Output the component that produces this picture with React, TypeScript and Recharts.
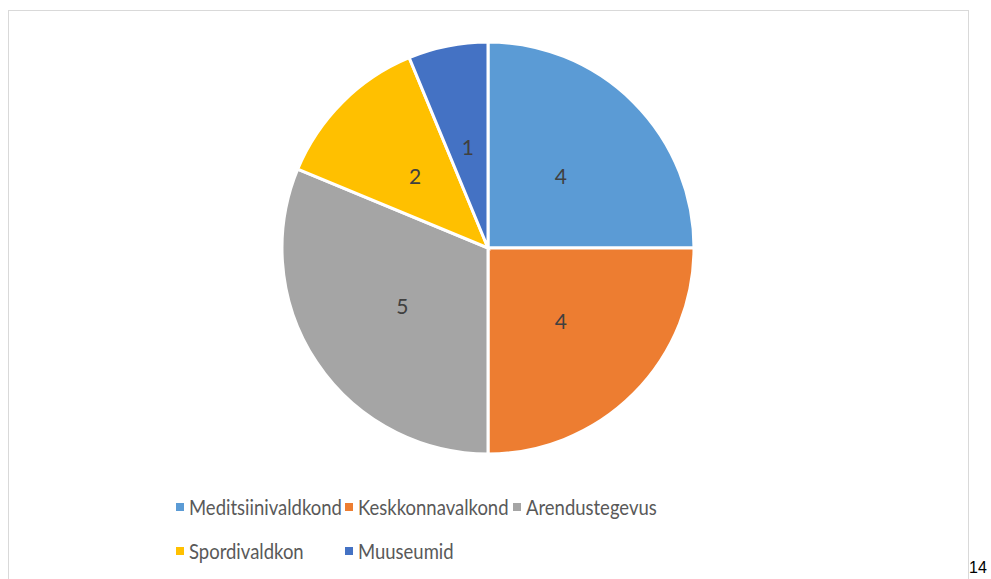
import React from 'react';
import { PieChart, Pie, Cell, Legend } from 'recharts';

const categories = ['Meditsiinivaldkond', 'Keskkonnavalkond', 'Arendustegevus', 'Spordivaldkon', 'Muuseumid'];
const values = [4, 4, 5, 2, 1];
const colors = ['#5B9BD5', '#ED7D31', '#A5A5A5', '#FFC000', '#4472C4'];

const chartData = categories.map((name, i) => ({ name, value: values[i] }));

const FONT = 'Lato, "Open Sans", sans-serif';
const RADIAN = Math.PI / 180;

const renderLabel = (props: any) => {
  const { cx, cy, midAngle, outerRadius, value } = props;
  const r = outerRadius * 0.5;
  const x = cx + r * Math.cos(-midAngle * RADIAN);
  const y = cy + r * Math.sin(-midAngle * RADIAN);
  return (
    <text x={x} y={y} fill="#404040" fontSize={21} fontFamily={FONT} textAnchor="middle" dominantBaseline="central">
      {value}
    </text>
  );
};

// legend laid out in two rows like the office chart
const legendSlots = [
  { left: 176, top: 0 },
  { left: 345, top: 0 },
  { left: 513, top: 0 },
  { left: 176, top: 44 },
  { left: 345, top: 44 },
];

const renderLegend = () => (
  <div style={{ position: 'relative', width: 991, height: 80 }}>
    {categories.map((name, i) => (
      <div
        key={name}
        style={{
          position: 'absolute',
          left: legendSlots[i].left,
          top: legendSlots[i].top,
          display: 'flex',
          alignItems: 'center',
          fontFamily: FONT,
          fontSize: 21,
          color: '#595959',
          lineHeight: '24px',
          whiteSpace: 'nowrap',
        }}
      >
        <span style={{ display: 'inline-block', width: 8, height: 8, background: colors[i], marginRight: 5 }} />
        {/* Calibri is narrower than Lato, squeeze a bit */}
        <span style={{ display: 'inline-block', transform: 'scaleX(0.88)', transformOrigin: 'left center' }}>{name}</span>
      </div>
    ))}
  </div>
);

const App: React.FC = () => {
  return (
    <div style={{ position: 'absolute', left: 0, top: 0, width: 991, height: 579, background: '#fff', overflow: 'hidden' }}>
      <div
        style={{
          position: 'absolute',
          left: 8,
          top: 10,
          width: 959,
          height: 600,
          border: '1px solid #d9d9d9',
        }}
      />
      <div style={{ position: 'absolute', left: 0, top: 0 }}>
        <PieChart width={991} height={579} margin={{ top: 0, right: 0, bottom: 0, left: 0 }}>
          <Pie
            data={chartData}
            dataKey="value"
            nameKey="name"
            cx={488}
            cy={248}
            outerRadius={206}
            startAngle={90}
            endAngle={-270}
            stroke="#fff"
            strokeWidth={3}
            label={renderLabel}
            labelLine={false}
            isAnimationActive={false}
          >
            {chartData.map((d, i) => (
              <Cell key={d.name} fill={colors[i]} />
            ))}
          </Pie>
          <Legend content={renderLegend} wrapperStyle={{ position: 'absolute', left: 0, top: 495, width: 991 }} />
        </PieChart>
      </div>
      <div style={{ position: 'absolute', left: 969, top: 559, fontFamily: 'Arial, "Liberation Sans", sans-serif', fontSize: 16, color: '#000' }}>
        14
      </div>
    </div>
  );
};

export default App;
